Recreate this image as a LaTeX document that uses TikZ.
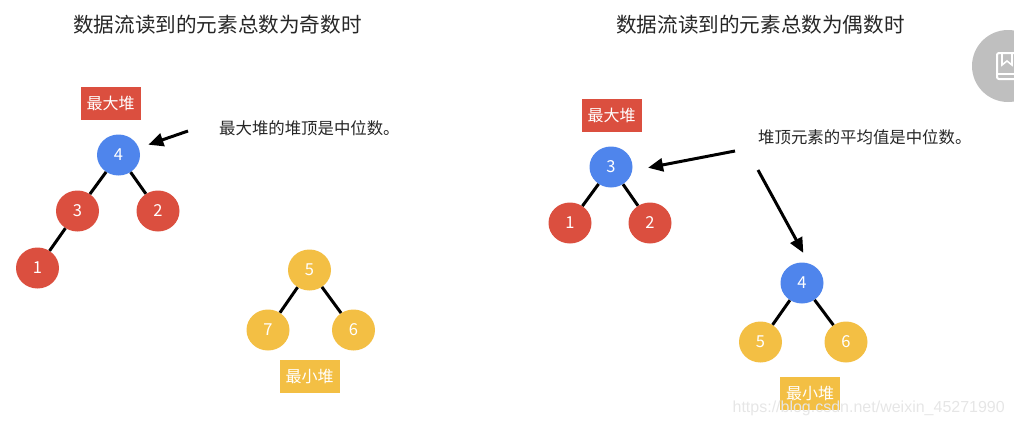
\documentclass[tikz,border=0pt]{standalone}
\usepackage{fontspec}
\setmainfont{Noto Sans CJK SC}
\usetikzlibrary{arrows.meta,shapes.geometric}
\definecolor{hred}{HTML}{DB4F3F}
\definecolor{hblue}{HTML}{4F85EC}
\definecolor{hyel}{HTML}{F3BF44}
\definecolor{wmark}{HTML}{E6E6E6}
\definecolor{badge}{HTML}{BFBFBF}
\tikzset{
  heapnode/.style={ellipse,inner sep=0pt,minimum width=43pt,minimum height=41pt,text=white,font=\fontsize{16.5}{16}\selectfont},
  rednode/.style={heapnode,fill=hred},
  bluenode/.style={heapnode,fill=hblue},
  yelnode/.style={heapnode,fill=hyel},
  tag/.style={inner sep=0pt,minimum width=60pt,minimum height=33pt,text=white,font=\fontsize{16}{16}\selectfont},
  titletext/.style={inner sep=0pt,text=black!85,font=\fontsize{20.6}{21}\selectfont},
  notetext/.style={inner sep=0pt,text=black!85,font=\fontsize{16.4}{16}\selectfont},
  edge/.style={line width=3pt,black},
  pointer/.style={line width=3pt,black,-{Triangle[length=15pt,width=13pt]}},
}
\begin{document}
\begin{tikzpicture}[x=1pt,y=-1pt]
\useasboundingbox (0,0) rectangle (1014,426);
\node[circle,fill=badge,inner sep=0pt,minimum size=72pt] (badge) at (1008,66) {};
\draw[white,line width=2pt,rounded corners=2pt] (1014,53) -- (997,53) -- (997,79) -- (1014,79);
\draw[white,line width=1.6pt] (997,74) -- (1014,74);
\draw[white,line width=1.6pt] (1002,53) -- (1002,65) -- (1007,61) -- (1012,65) -- (1012,53);
\node[titletext] (t1) at (217.5,25) {数据流读到的元素总数为奇数时};
\node[titletext] (t2) at (760.5,25) {数据流读到的元素总数为偶数时};
\node[tag,fill=hred] (maxa) at (110.5,103) {最大堆};
\node[bluenode] (a4) at (118.5,155) {4};
\node[rednode] (a3) at (77.5,211) {3};
\node[rednode] (a2) at (158,211) {2};
\node[rednode] (a1) at (37.5,268) {1};
\node[yelnode] (b5) at (309.5,270) {5};
\node[yelnode] (b7) at (268,330) {7};
\node[yelnode] (b6) at (353.5,330) {6};
\node[tag,fill=hyel] (mina) at (309.5,376) {最小堆};
\node[notetext,anchor=west] (n1) at (219,128) {最大堆的堆顶是中位数。};
\coordinate (s1) at (188,131);
\draw[edge] (a4) -- (a3);
\draw[edge] (a4) -- (a2);
\draw[edge] (a3) -- (a1);
\draw[edge] (b5) -- (b7);
\draw[edge] (b5) -- (b6);
\draw[pointer,shorten >=10pt] (s1) -- (a4);
\node[tag,fill=hred] (maxb) at (611.5,115) {最大堆};
\node[bluenode] (c3) at (611,167) {3};
\node[rednode] (c1) at (570,223) {1};
\node[rednode] (c2) at (650,223) {2};
\node[bluenode] (d4) at (802,283) {4};
\node[yelnode] (d5) at (760.5,342) {5};
\node[yelnode] (d6) at (846,342) {6};
\node[tag,fill=hyel] (minb) at (810,393) {最小堆};
\node[notetext,anchor=west] (n2) at (758,137) {堆顶元素的平均值是中位数。};
\coordinate (s2) at (735,151);
\coordinate (s3) at (758,170);
\draw[edge] (c3) -- (c1);
\draw[edge] (c3) -- (c2);
\draw[edge] (d4) -- (d5);
\draw[edge] (d4) -- (d6);
\draw[pointer,shorten >=16pt] (s2) -- (c3.-10);
\draw[pointer,shorten >=12pt] (s3) -- (d4.70);
\node[inner sep=0pt,anchor=east,text=wmark,font=\fontspec{Liberation Sans}\fontsize{16}{18}\selectfont] (wm) at (1005,408) {https://blog.csdn.net/weixin\_45271990};
\end{tikzpicture}
\end{document}
